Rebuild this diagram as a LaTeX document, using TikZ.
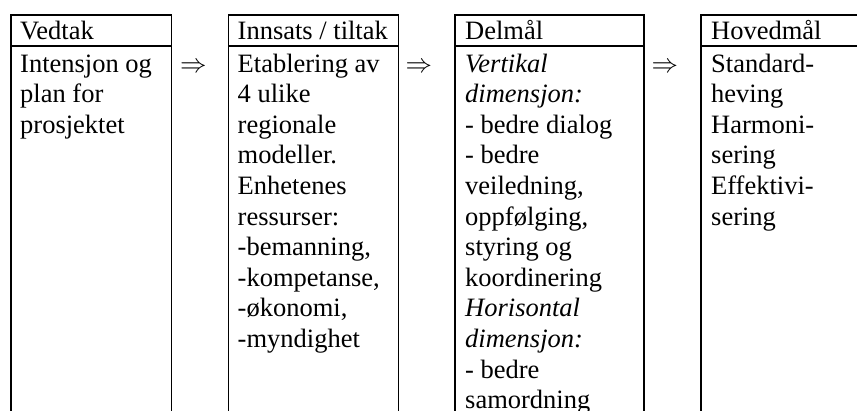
\RequirePackage{fix-cm}
\documentclass[tikz,border=0pt]{standalone}
\usepackage{fontspec}
\setmainfont{Liberation Serif}
% stacked lines, aligned on the baseline of the first line
\newcommand{\celllines}[1]{\begin{tabular}[t]{@{}l@{}}#1\end{tabular}}
\begin{document}
\begin{tikzpicture}[x=1pt,y=-1pt]
\tikzset{
  frame/.style={draw, line width=1.7pt, inner sep=0pt, anchor=north west},
  hdrcell/.style={frame, minimum height=31pt},
  bodycell/.style={frame, minimum height=380pt},
  txt/.style={inner sep=0pt, anchor=base west,
    font=\fontsize{26.5}{30.6}\selectfont},
  arr/.style={inner sep=0pt, anchor=base west,
    font=\fontsize{26.5}{30.6}\selectfont},
}
\useasboundingbox (0,0) rectangle (857,410);
\clip (0,0) rectangle (857,410);

% column frames: header cell and open-ended body cell
\node[hdrcell,  minimum width=160.5pt] (h1) at (10,14) {};
\node[bodycell, minimum width=160.5pt] (b1) at (10,45) {};
\node[hdrcell,  minimum width=170pt] (h2) at (227.5,14) {};
\node[bodycell, minimum width=170pt] (b2) at (227.5,45) {};
\node[hdrcell,  minimum width=189pt] (h3) at (454,14) {};
\node[bodycell, minimum width=189pt] (b3) at (454,45) {};
\node[hdrcell,  minimum width=190pt] (h4) at (700,14) {};
\node[bodycell, minimum width=190pt] (b4) at (700,45) {};

% headings
\node[txt] (t1) at (20,39) {Vedtak};
\node[txt] (t2) at (237.5,39) {Innsats / tiltak};
\node[txt] (t3) at (465,39) {Delmål};
\node[txt] (t4) at (711,39) {Hovedmål};

% cell contents
\node[txt] (c1) at (20,72) {\celllines{Intensjon og\\plan for\\prosjektet}};
\node[txt] (c2) at (237.5,72) {\celllines{Etablering av\\4 ulike\\regionale\\modeller.\\Enhetenes\\ressurser:\\-bemanning,\\-kompetanse,\\-økonomi,\\-myndighet}};
\node[txt] (c3) at (465,72) {\celllines{\textit{Vertikal}\\\textit{dimensjon:}\\- bedre dialog\\- bedre\\veiledning,\\oppfølging,\\styring og\\koordinering\\\textit{Horisontal}\\\textit{dimensjon:}\\- bedre\\samordning}};
\node[txt] (c4) at (711,72) {\celllines{Standard-\\heving\\Harmoni-\\sering\\Effektivi-\\sering}};

% implication arrows between the columns
\node[arr] (a1) at (180,72) {$\Rightarrow$};
\node[arr] (a2) at (405.5,72) {$\Rightarrow$};
\node[arr] (a3) at (651.5,72) {$\Rightarrow$};
\end{tikzpicture}
\end{document}
